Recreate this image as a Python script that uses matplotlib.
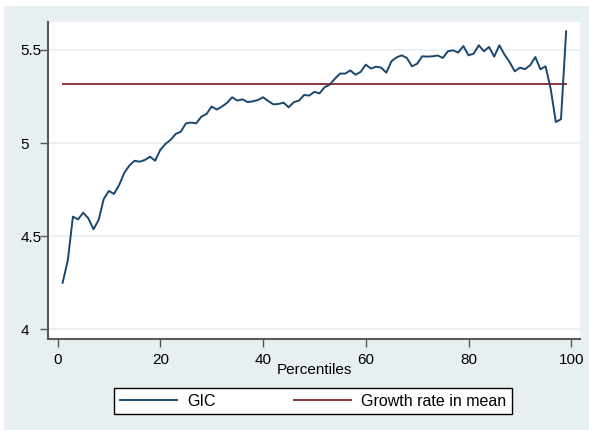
import numpy as np
import matplotlib.pyplot as plt
from matplotlib.patches import Rectangle

# Growth incidence curve, percentiles 1..99
percentiles = np.arange(1, 100)
gic = [4.25, 4.37, 4.605, 4.59, 4.626, 4.596, 4.537, 4.587, 4.70, 4.743,
       4.727, 4.775, 4.84, 4.88, 4.905, 4.90, 4.909, 4.927, 4.905, 4.963,
       4.995, 5.017, 5.049, 5.061, 5.106, 5.11, 5.106, 5.142, 5.156, 5.196,
       5.18, 5.196, 5.216, 5.246, 5.228, 5.235, 5.22, 5.224, 5.231, 5.246,
       5.226, 5.208, 5.21, 5.217, 5.192, 5.22, 5.228, 5.258, 5.255, 5.275,
       5.267, 5.30, 5.314, 5.346, 5.373, 5.373, 5.39, 5.367, 5.382, 5.421,
       5.40, 5.41, 5.405, 5.378, 5.439, 5.46, 5.471, 5.457, 5.412, 5.426,
       5.466, 5.464, 5.466, 5.47, 5.457, 5.493, 5.498, 5.486, 5.521, 5.471,
       5.48, 5.525, 5.493, 5.516, 5.464, 5.525, 5.475, 5.435, 5.385, 5.405,
       5.397, 5.418, 5.462, 5.396, 5.412, 5.29, 5.113, 5.128, 5.60]
mean_growth = 5.316

yticks = [4, 4.5, 5, 5.5]
yticklabels = ["4", "4.5", "5", "5.5"]
xticks = [0, 20, 40, 60, 80, 100]

plt.rcParams['font.family'] = ['Liberation Sans', 'DejaVu Sans']

W, H = 589, 430
fig = plt.figure(figsize=(W / 100, H / 100), dpi=100)
fig.patch.set_facecolor('white')
bg = '#e8eff1'
fig.patches.append(Rectangle((4 / W, 0), 1 - 4 / W, 1 - 6 / H,
                             transform=fig.transFigure, facecolor=bg,
                             edgecolor='none', zorder=-5))

ax = fig.add_axes([48 / W, 1 - 339 / H, (580 - 48) / W, (339 - 22) / H])
ax.set_zorder(2)
ax.set_facecolor('white')

for y in yticks:
    ax.axhline(y, color='#e6eef1', linewidth=1.2, zorder=1)

ax.plot(percentiles, gic, color='#1a476f', linewidth=1.4, zorder=3,
        label='GIC')
ax.plot([percentiles[0], percentiles[-1]], [mean_growth, mean_growth],
        color='#90353b', linewidth=1.4, zorder=2,
        label='Growth rate in mean')

ax.set_xlim(-1.85, 101.7)
ax.set_ylim(3.948, 5.65)

ax.set_xticks(xticks)
ax.set_xticklabels([str(x) for x in xticks], fontsize=11)
ax.set_yticks(yticks)
ax.set_yticklabels(yticklabels, fontsize=11)
for lab in ax.get_yticklabels():
    lab.set_horizontalalignment('left')

ax.tick_params(axis='x', length=6, width=1, color='#555555', pad=4)
ax.tick_params(axis='y', length=6, width=1, color='#555555', pad=14)

for side in ['top', 'right']:
    ax.spines[side].set_visible(False)
for side in ['left', 'bottom']:
    ax.spines[side].set_color('#5a5a5a')
    ax.spines[side].set_linewidth(1.5)

ax.set_xlabel('Percentiles', fontsize=11, labelpad=-3)

leg = fig.legend(loc='center', bbox_to_anchor=(313 / W, 1 - 401 / H),
                 ncol=2, fontsize=11.5, frameon=True, fancybox=False,
                 framealpha=1, facecolor='white',
                 handlelength=3.6, handletextpad=0.6, columnspacing=4.9,
                 borderpad=0.35)
leg.get_frame().set_edgecolor('black')
leg.get_frame().set_linewidth(1)

fig.savefig('out.png', dpi=100, facecolor=fig.get_facecolor())
